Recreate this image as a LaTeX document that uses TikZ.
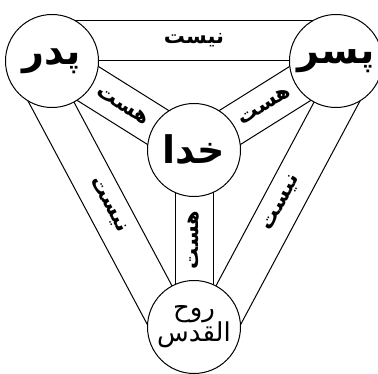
\documentclass[tikz,border=0pt]{standalone}
\usepackage{fontspec}
\usetikzlibrary{calc}
\TeXXeTstate=1
\newfontfamily\arabicfont[Script=Arabic]{DejaVu Sans}
\tikzset{
  person/.style={circle, draw, fill=white, line width=1pt, minimum size=93pt, inner sep=0pt, font=\arabicfont\fontsize{38}{42}\selectfont},
  bandline/.style={line width=1pt},
  bandlabel/.style={inner sep=0pt, font=\arabicfont\bfseries\fontsize{21}{24}\selectfont}
}
\begin{document}
\begin{tikzpicture}[x=1pt,y=-1pt]
\useasboundingbox (0,0) rectangle (378,374);
\coordinate (cF) at (52,61);
\coordinate (cS) at (336,61);
\coordinate (cG) at (194,150);
\coordinate (cH) at (194,327);
% outer bands
\draw[bandline] (cF) -- (cS);
\draw[bandline] ($(cF)!40pt!90:(cS)$) -- ($(cS)!40pt!-90:(cF)$);
\draw[bandline] (cF) -- (cH);
\draw[bandline] ($(cF)!40pt!-90:(cH)$) -- ($(cH)!40pt!90:(cF)$);
\draw[bandline] (cS) -- (cH);
\draw[bandline] ($(cS)!40pt!90:(cH)$) -- ($(cH)!40pt!-90:(cS)$);
% inner bands
\draw[bandline] ($(cF)!20pt!90:(cG)$) -- ($(cG)!20pt!-90:(cF)$);
\draw[bandline] ($(cF)!20pt!-90:(cG)$) -- ($(cG)!20pt!90:(cF)$);
\draw[bandline] ($(cS)!20pt!90:(cG)$) -- ($(cG)!20pt!-90:(cS)$);
\draw[bandline] ($(cS)!20pt!-90:(cG)$) -- ($(cG)!20pt!90:(cS)$);
\draw[bandline] ($(cG)!19pt!90:(cH)$) -- ($(cH)!19pt!-90:(cG)$);
\draw[bandline] ($(cG)!19pt!-90:(cH)$) -- ($(cH)!19pt!90:(cG)$);
% circles
\node[person] (F) at (cF) {\bfseries\beginR پدر\endR};
\node[person] (S) at (cS) {\bfseries\beginR پسر\endR};
\node[person] (G) at (cG) {\bfseries\beginR خدا\endR};
\node[person, align=center, font=\arabicfont\fontsize{26}{28}\selectfont] (H) at (cH) {\beginR روح\endR\\[-3pt]\beginR القدس\endR};
% labels
\node[bandlabel] (l1) at (194,40) {\beginR نیست\endR};
\node[bandlabel, rotate=-32] (l2) at ($(cF)!0.5!(cG)$) {\beginR هست\endR};
\node[bandlabel, rotate=32] (l3) at ($(cS)!0.5!(cG)$) {\beginR هست\endR};
\node[bandlabel, rotate=90] (l4) at (194,240) {\beginR هست\endR};
\node[bandlabel, rotate=-62] (l5) at (108,205) {\beginR نیست\endR};
\node[bandlabel, rotate=62] (l6) at (282,203) {\beginR نیست\endR};
\end{tikzpicture}
\end{document}
